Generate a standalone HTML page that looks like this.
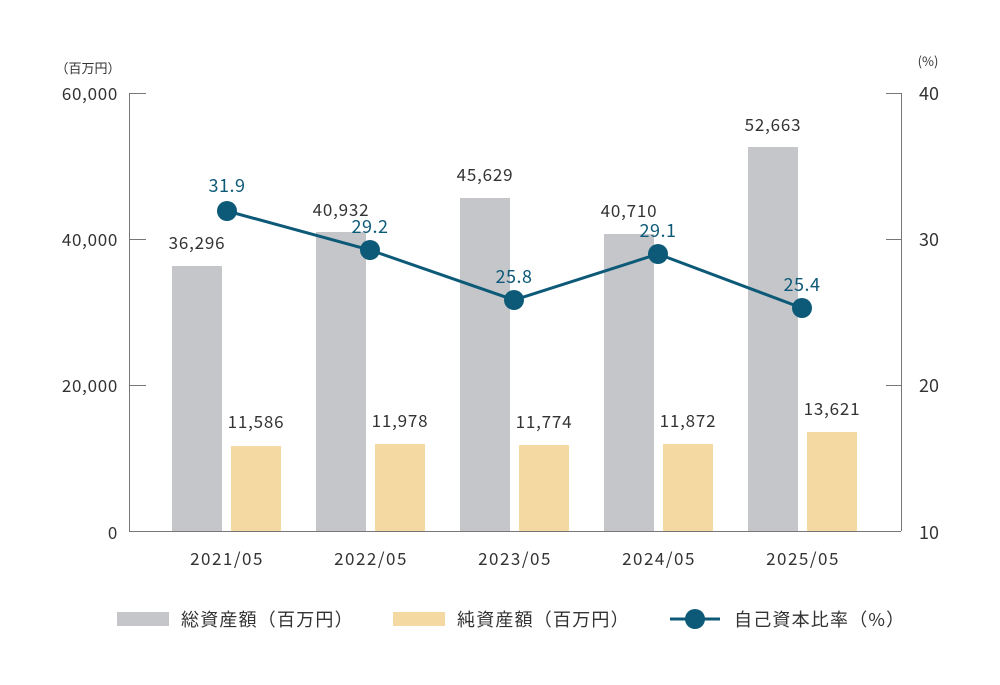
<!DOCTYPE html><html><head><meta charset="utf-8"><style>body{margin:0;background:#fff}</style></head><body>
<svg width="1000" height="680" xmlns="http://www.w3.org/2000/svg" font-family="'Noto Sans CJK JP','Liberation Sans',sans-serif" fill="#333">
<g stroke="#777" stroke-width="1" fill="none">
<path d="M129.5 93V531M129 93.5H146M129 239.5H146M129 385.5H146"/>
<path d="M901.5 93V531M886 93.5H901M886 239.5H901M886 385.5H901"/>
<path d="M129 531.5H901"/>
</g>
<g font-size="17" text-anchor="end" letter-spacing="0.7">
<text x="118" y="100">60,000</text><text x="118" y="246">40,000</text><text x="118" y="392">20,000</text><text x="118" y="539">0</text>
</g>
<text x="88" y="73" font-size="13" text-anchor="middle">（百万円）</text>
<text x="928" y="66" font-size="13" text-anchor="middle">(%)</text>
<g font-size="18" text-anchor="middle">
<text x="929" y="100">40</text><text x="929" y="246">30</text><text x="929" y="392">20</text><text x="929" y="539">10</text>
</g>
<g fill="#c4c6c9">
<rect x="172" y="266" width="50" height="265"/>
<rect x="316" y="232" width="50" height="299"/>
<rect x="460" y="198" width="50" height="333"/>
<rect x="604" y="234" width="50" height="297"/>
<rect x="748" y="147" width="50" height="384"/>
</g>
<g fill="#f5d9a3">
<rect x="231" y="446" width="50" height="85"/>
<rect x="375" y="444" width="50" height="87"/>
<rect x="519" y="445" width="50" height="86"/>
<rect x="663" y="444" width="50" height="87"/>
<rect x="807" y="432" width="50" height="99"/>
</g>
<g font-size="17" text-anchor="middle" letter-spacing="0.8">
<text x="197" y="249">36,296</text><text x="341" y="216">40,932</text><text x="485" y="181">45,629</text><text x="629" y="217">40,710</text><text x="773" y="131">52,663</text>
<text x="256" y="428">11,586</text><text x="400" y="427">11,978</text><text x="544" y="428">11,774</text><text x="688" y="427">11,872</text><text x="832" y="415">13,621</text>
</g>
<g font-size="17" text-anchor="middle" letter-spacing="1.5">
<text x="227" y="565">2021/05</text><text x="371" y="565">2022/05</text><text x="515" y="565">2023/05</text><text x="659" y="565">2024/05</text><text x="803" y="565">2025/05</text>
</g>
<polyline points="227,211 370,250 514,300 658,254 802,308" fill="none" stroke="#0d5a78" stroke-width="3"/>
<g fill="#0d5a78">
<circle cx="227" cy="211" r="10"/><circle cx="370" cy="250" r="10"/><circle cx="514" cy="300" r="10"/><circle cx="658" cy="254" r="10"/><circle cx="802" cy="308" r="10"/>
<g font-size="18" text-anchor="middle" letter-spacing="0.5">
<text x="227" y="192">31.9</text><text x="370" y="233">29.2</text><text x="514" y="283">25.8</text><text x="658" y="237">29.1</text><text x="802" y="291">25.4</text>
</g>
</g>
<g font-size="18" letter-spacing="1.2">
<rect x="117" y="612" width="52" height="14" fill="#c4c6c9"/>
<text x="181" y="626">総資産額（百万円）</text>
<rect x="393" y="612" width="52" height="14" fill="#f5d9a3"/>
<text x="457" y="626">純資産額（百万円）</text>
<line x1="670" y1="619" x2="720" y2="619" stroke="#0d5a78" stroke-width="3"/>
<circle cx="695" cy="619" r="10" fill="#0d5a78"/>
<text x="734" y="626">自己資本比率（%）</text>
</g>
</svg>
</body></html>
